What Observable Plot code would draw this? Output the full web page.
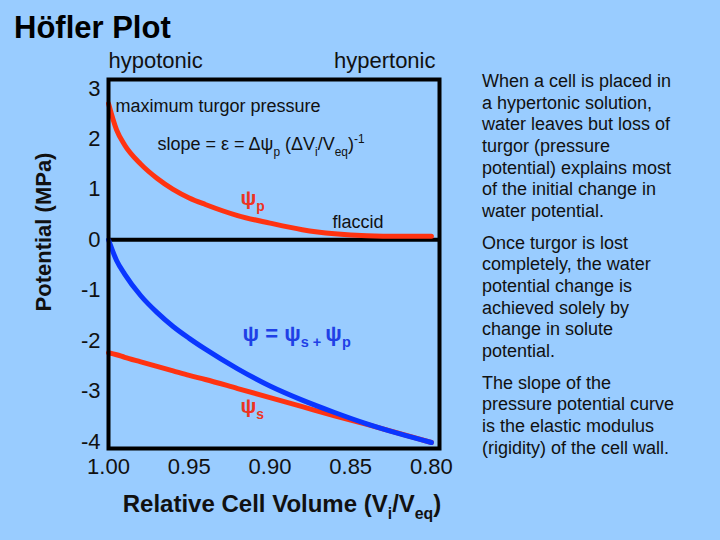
<!DOCTYPE html>
<html>
<head>
<meta charset="utf-8">
<script src="https://cdn.jsdelivr.net/npm/d3@7"></script>
<script src="https://cdn.jsdelivr.net/npm/@observablehq/plot@0.6"></script>
<style>
  html, body { margin: 0; padding: 0; background: #99ccff; }
  #wrap { position: relative; width: 720px; height: 540px; overflow: hidden;
          font-family: "Liberation Sans", Arial, Helvetica, sans-serif; color: #111; }
  #chart { position: absolute; left: 0; top: 0; }
  #title { position: absolute; left: 14px; top: 12px; font-size: 31px; font-weight: bold;
           line-height: 31px; white-space: nowrap; color: #000; }
  #side { position: absolute; left: 482px; top: 71px; font-size: 18px; line-height: 21.67px; }
  #side p { margin: 0 0 10px 0; white-space: nowrap; }
</style>
</head>
<body>
<div id="wrap">
  <div id="chart"></div>
  <div id="title">Höfler Plot</div>
  <div id="side"></div>
</div>
<script>
// ---- data ----
const volume = [1.00, 0.995, 0.99, 0.98, 0.97, 0.96, 0.95, 0.94, 0.92, 0.90, 0.88, 0.86, 0.84, 0.82, 0.80];
const turgor = [2.70, 2.18, 1.88, 1.50, 1.22, 1.00, 0.83, 0.70, 0.48, 0.33, 0.20, 0.12, 0.08, 0.07, 0.07];
const solute = [-2.24, -2.28, -2.33, -2.42, -2.51, -2.60, -2.69, -2.77, -2.95, -3.13, -3.31, -3.49, -3.66, -3.84, -4.02];
const water  = [0.00, -0.41, -0.68, -1.11, -1.44, -1.72, -1.955, -2.17, -2.56, -2.90, -3.18, -3.425, -3.65, -3.845, -4.02];
const xTicks = [1.00, 0.95, 0.90, 0.85, 0.80];
const yTicks = [3, 2, 1, 0, -1, -2, -3, -4];

// annotations (text, anchored at volume / potential)
const labelText = ["maximum turgor pressure", "slope = ε = Δψ_{p} (ΔV_{i}/V_{eq})^{-1}", "flaccid",
                   "ψ_{p}", "ψ_{s}", "ψ = ψ_{s + }ψ_{p}"];
const labelVolume = [0.9957, 0.9697, 0.8613, 0.9183, 0.9183, 0.917];
const labelPotential = [2.64, 1.886, 0.339, 0.827, -3.298, -1.858];

const sideText = [
  ["When a cell is placed in", "a hypertonic solution,", "water leaves but loss of", "turgor (pressure",
   "potential) explains most", "of the initial change in", "water potential."],
  ["Once turgor is lost", "completely, the water", "potential change is", "achieved solely by",
   "change in solute", "potential."],
  ["The slope of the", "pressure potential curve", "is the elastic modulus", "(rigidity) of the cell wall."]
];

// ---- build ----
const rows = volume.map((v, i) => ({v, turgor: turgor[i], solute: solute[i], water: water[i]}));
const labels = labelText.map((t, i) => ({t, v: labelVolume[i], p: labelPotential[i]}));

const RED = "#ff3311", BLUE = "#0a36ff";

const chart = Plot.plot({
  width: 720,
  height: 540,
  marginLeft: 108,
  marginRight: 281,
  marginTop: 79,
  marginBottom: 92,
  style: {background: "transparent", fontFamily: "'Liberation Sans', Arial, Helvetica, sans-serif",
          fontSize: "22px", color: "#111"},
  x: {domain: [1.0, 0.795], ticks: xTicks, tickFormat: d => d.toFixed(2), tickSize: 0, tickPadding: 10, label: null},
  y: {domain: [-4.139, 3.178], ticks: yTicks, tickFormat: d => String(d), tickSize: 0, tickPadding: 8, label: null},
  marks: [
    Plot.ruleY([0], {stroke: "#000", strokeWidth: 4}),
    Plot.line(rows, {x: "v", y: "solute", stroke: RED, strokeWidth: 5, curve: "monotone-x"}),
    Plot.line(rows, {x: "v", y: "turgor", stroke: RED, strokeWidth: 5, curve: "monotone-x"}),
    Plot.line(rows, {x: "v", y: "water", stroke: BLUE, strokeWidth: 5, curve: "monotone-x"}),
    Plot.frame({stroke: "#000", strokeWidth: 4}),
    // black annotations
    Plot.text(labels.slice(0, 3), {x: "v", y: "p", text: "t", textAnchor: "start", lineAnchor: "middle",
      fontSize: 18, fill: "#111"}),
    // red labels
    Plot.text(labels.slice(3, 5), {x: "v", y: "p", text: "t", textAnchor: "start", lineAnchor: "middle",
      fontSize: 21, fontWeight: "bold", fill: "#ee3322"}),
    // blue label
    Plot.text(labels.slice(5), {x: "v", y: "p", text: "t", textAnchor: "start", lineAnchor: "middle",
      fontSize: 22, fontWeight: "bold", fill: "#1f40e6"}),
    // top labels
    Plot.text(["hypotonic"], {frameAnchor: "top-left", textAnchor: "start", lineAnchor: "middle",
      dy: -19, fontSize: 22, fill: "#111"}),
    Plot.text(["hypertonic"], {frameAnchor: "top-right", textAnchor: "end", lineAnchor: "middle",
      dx: -4, dy: -19, fontSize: 22, fill: "#111"}),
    // axis titles
    Plot.text(["Relative Cell Volume (V_{i}/V_{eq})"], {frameAnchor: "bottom", textAnchor: "middle",
      lineAnchor: "middle", dx: 8, dy: 56, fontSize: 24, fontWeight: "bold", fill: "#111"}),
    Plot.text(["Potential (MPa)"], {frameAnchor: "left", rotate: -90, textAnchor: "middle",
      lineAnchor: "middle", dx: -65, dy: -32, fontSize: 22, fontWeight: "bold", fill: "#111"})
  ]
});
document.getElementById("chart").appendChild(chart);

// rich text: _{..} subscript, ^{..} superscript
function richify(el) {
  const s = el.textContent;
  if (!/[_^]\{/.test(s)) return;
  const fs = parseFloat(getComputedStyle(el).fontSize) || 18;
  while (el.firstChild) el.removeChild(el.firstChild);
  const re = /([_^])\{([^}]*)\}/g;
  let last = 0, m, shift = 0;
  const add = (str, kind) => {
    const t = document.createElementNS("http://www.w3.org/2000/svg", "tspan");
    t.textContent = str;
    const target = kind === "_" ? fs * 0.3 : kind === "^" ? -fs * 0.4 : 0;
    const dy = target - shift;
    shift = target;
    if (dy) t.setAttribute("dy", dy.toFixed(2));
    if (kind) t.setAttribute("font-size", (fs * 0.66).toFixed(1));
    el.appendChild(t);
  };
  while ((m = re.exec(s))) {
    if (m.index > last) add(s.slice(last, m.index), null);
    add(m[2], m[1]);
    last = re.lastIndex;
  }
  if (last < s.length) add(s.slice(last), null);
}
d3.select(chart).selectAll("text").each(function() { richify(this); });

// side text
const side = d3.select("#side");
sideText.forEach(lines => {
  const p = side.append("p");
  lines.forEach((ln, i) => {
    if (i) p.append("br");
    p.append("span").text(ln);
  });
});
</script>
</body>
</html>
